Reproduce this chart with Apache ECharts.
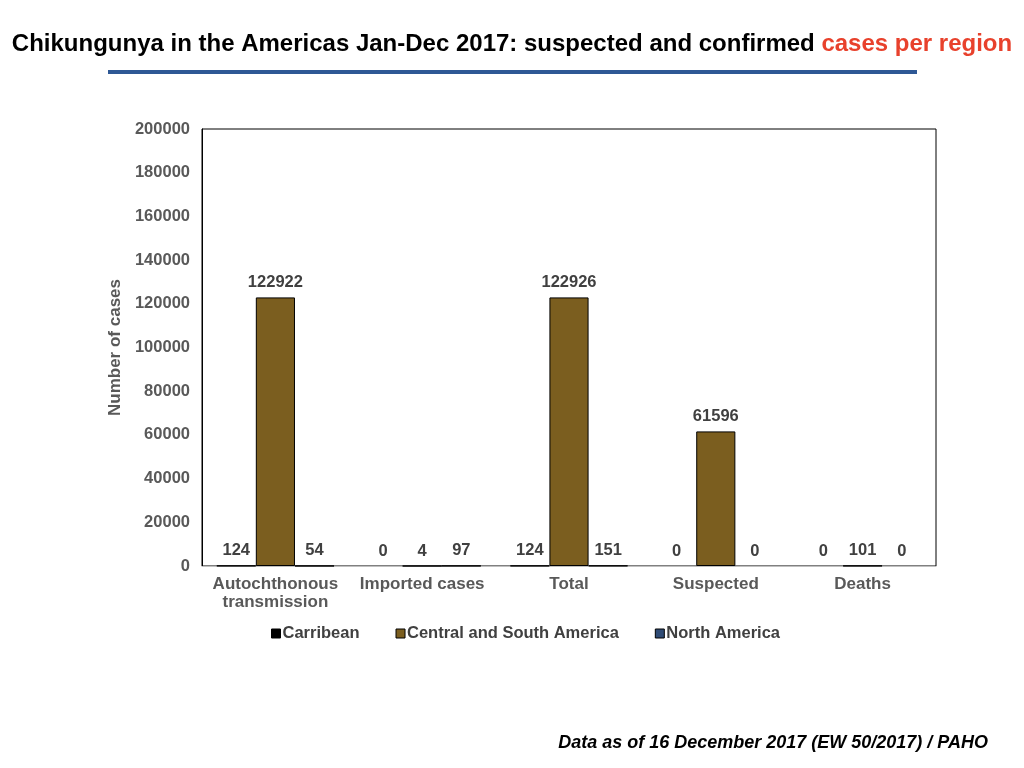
<!DOCTYPE html>
<html><head><meta charset="utf-8">
<script src="https://cdn.jsdelivr.net/npm/echarts@6/dist/echarts.min.js"></script>
<style>html,body{margin:0;padding:0;background:#fff}#c{width:1024px;height:768px}</style>
</head><body><div id="c"></div>
<script>
const categories = ['Autochthonous\ntransmission', 'Imported cases', 'Total', 'Suspected', 'Deaths'];
const seriesNames = ['Carribean', 'Central and South America', 'North America'];
const carribean = [124, 0, 124, 0, 0];
const centralSouth = [122922, 4, 122926, 61596, 101];
const northAmerica = [54, 97, 151, 0, 0];
const yTicks = {min: 0, max: 200000, interval: 20000};
const colors = ['#000000', '#7B5E1F', '#2F4B75'];

const font = '"Liberation Sans", Arial, Helvetica, sans-serif';
const chart = echarts.init(document.getElementById('c'));
const mk = (name, data, color) => ({
  name, type: 'bar',
  data: data.map(v => v === 0 ? {value: v, itemStyle: {borderWidth: 0}} : v),
  barGap: '0%', barCategoryGap: '20%',
  itemStyle: {color, borderColor: '#000', borderWidth: 1},
  label: {show: true, position: 'top', fontFamily: font, fontWeight: 'bold', fontSize: 16.5, color: '#404040', distance: 6}
});
chart.setOption({
  animation: false,
  textStyle: {fontFamily: font},
  title: {
    text: '{a|Chikungunya in the Americas Jan-Dec 2017: suspected and confirmed }{b|cases per region}',
    left: 'center', top: 27,
    textStyle: {rich: {
      a: {fontFamily: font, fontWeight: 'bold', fontSize: 24, color: '#000'},
      b: {fontFamily: font, fontWeight: 'bold', fontSize: 24, color: '#E8412C'}
    }}
  },
  graphic: [
    {type: 'line', shape: {x1: 108, y1: 72, x2: 917, y2: 72}, style: {stroke: '#2E5895', lineWidth: 4}},
    {type: 'text', right: 36, top: 734, style: {text: 'Data as of 16 December 2017 (EW 50/2017) / PAHO', font: 'italic bold 18px ' + font, fill: '#000'}}
  ],
  legend: {
    left: 266, top: 620, itemWidth: 9, itemHeight: 9, itemGap: 36,
    icon: 'rect',
    textStyle: {fontFamily: font, fontWeight: 'bold', fontSize: 16.5, color: '#404040', padding: [0, 0, 0, -3]},
    itemStyle: {borderColor: '#000', borderWidth: 1},
    data: seriesNames
  },
  grid: {left: 202, right: 88, top: 129, bottom: 202, show: true, borderColor: '#000', borderWidth: 1},
  xAxis: {
    type: 'category', data: categories,
    axisLine: {lineStyle: {color: '#BFBFBF', width: 1}},
    axisTick: {show: false},
    axisLabel: {fontFamily: font, fontWeight: 'bold', fontSize: 17, color: '#595959', margin: 9, lineHeight: 18, interval: 0}
  },
  yAxis: {
    type: 'value', min: yTicks.min, max: yTicks.max, interval: yTicks.interval,
    name: 'Number of cases', nameLocation: 'middle', nameGap: 76,
    nameTextStyle: {fontFamily: font, fontWeight: 'bold', fontSize: 17, color: '#595959'},
    axisLine: {show: true, lineStyle: {color: '#000'}},
    axisTick: {show: false},
    splitLine: {show: false},
    axisLabel: {fontFamily: font, fontWeight: 'bold', fontSize: 16.5, color: '#595959', margin: 12, formatter: v => String(v)}
  },
  series: [mk(seriesNames[0], carribean, colors[0]), mk(seriesNames[1], centralSouth, colors[1]), mk(seriesNames[2], northAmerica, colors[2])]
});
</script></body></html>
